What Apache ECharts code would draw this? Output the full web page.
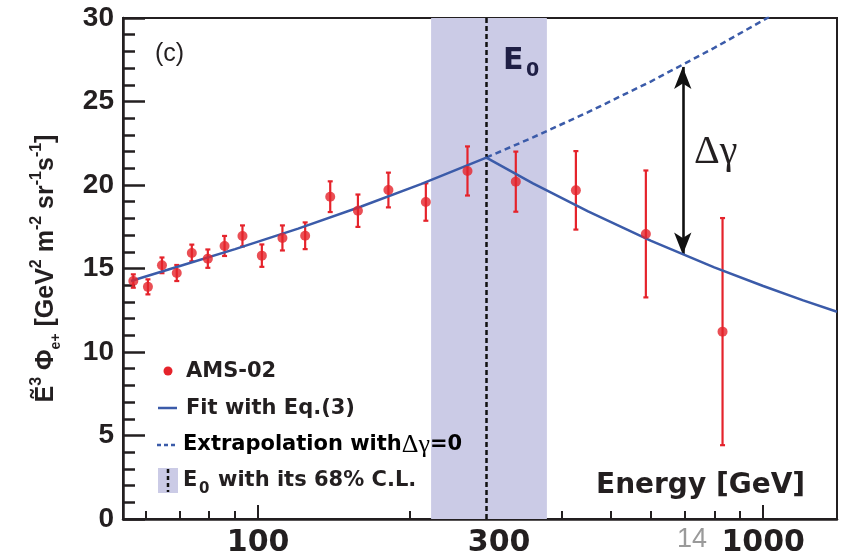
<!DOCTYPE html>
<html>
<head>
<meta charset="utf-8" />
<script src="https://cdn.jsdelivr.net/npm/echarts@6/dist/echarts.min.js"></script>
<style>
  html, body { margin: 0; padding: 0; background: #fff; }
  #main { width: 848px; height: 560px; }
</style>
</head>
<body>
<div id="main"></div>
<script>
// AMS-02 positron points (energy GeV, E^3 flux, error)
var amsE    = [56.6, 60.5, 64.5, 69.0, 73.9, 79.5, 85.8, 93.1, 101.7, 111.7, 123.9, 138.9, 157.6, 181.1, 214.8, 259.7, 323.7, 425.7, 585.7, 830.8];
var amsFlux = [14.25, 13.9, 15.19, 14.73, 15.93, 15.59, 16.35, 16.95, 15.77, 16.83, 16.96, 19.3, 18.46, 19.7, 18.98, 20.84, 20.2, 19.68, 17.07, 11.22];
var amsErr  = [0.4, 0.45, 0.47, 0.48, 0.5, 0.55, 0.6, 0.63, 0.67, 0.75, 0.8, 0.92, 0.97, 1.04, 1.12, 1.47, 1.8, 2.35, 3.8, 6.8];

// fit with Eq.(3)
var fitE    = [56, 70, 90, 120, 160, 210, 283, 350, 450, 600, 800, 1000, 1200, 1400];
var fitFlux = [14.25, 15.15, 16.16, 17.39, 18.71, 20.05, 21.64, 20.10, 18.42, 16.66, 15.07, 13.95, 13.09, 12.41];

// extrapolation with delta gamma = 0
var extE    = [283, 350, 450, 600, 800, 1000, 1100];
var extFlux = [21.64, 22.85, 24.36, 26.21, 28.21, 29.86, 30.59];

// E0 and its 68% C.L. band
var e0 = 283;
var e0Band = [220, 373];

// delta gamma arrow
var arrowE = 693;
var arrowFrom = 15.84;
var arrowTo = 27.07;

// axes
var xMin = 54, xMax = 1400;
var xMinorTicks = [60, 70, 80, 90, 200, 300, 400, 500, 600, 700, 800, 900];
var xMajorTicks = [100, 1000];
var xTickLabels = [100, 300, 1000];
var yMin = 0, yMax = 30, yStep = 5;

var RED = '#e5232b', BLUE = '#3b5ba9', INK = '#231f20', BAND = '#cbcbe6';
var SANS = 'Liberation Sans', WIDE = 'DejaVu Sans', SERIF = 'Liberation Serif';

var chart = echarts.init(document.getElementById('main'));

function lg(v) { return Math.log10(v); }

var amsData = amsE.map(function (e, i) { return [e, amsFlux[i], amsErr[i]]; });

var option = {
    animation: false,
    grid: { left: 123, right: 11, top: 18, bottom: 41, show: true, borderColor: INK, borderWidth: 2, backgroundColor: 'transparent' },
    xAxis: [
        {
            type: 'log', logBase: 10, min: xMin, max: xMax, position: 'bottom',
            axisLine: { onZero: false, lineStyle: { color: INK, width: 2.5 } },
            axisTick: { show: false }, axisLabel: { show: false },
            splitLine: { show: false }, minorTick: { show: false }
        },
        {
            type: 'value', min: lg(xMin), max: lg(xMax), position: 'bottom',
            axisLine: { show: false, onZero: false },
            axisTick: { inside: true, length: 8, customValues: xMinorTicks.map(lg), lineStyle: { color: INK, width: 2 } },
            axisLabel: { show: false }, splitLine: { show: false }
        },
        {
            type: 'value', min: lg(xMin), max: lg(xMax), position: 'bottom',
            axisLine: { show: false, onZero: false },
            axisTick: { inside: true, length: 14, customValues: xMajorTicks.map(lg), lineStyle: { color: INK, width: 2 } },
            axisLabel: {
                customValues: xTickLabels.map(lg), margin: 9,
                fontFamily: WIDE, fontWeight: 'bold', fontSize: 30, color: INK,
                formatter: function (v) { return String(Math.round(Math.pow(10, v))); }
            },
            splitLine: { show: false }
        }
    ],
    yAxis: {
        type: 'value', min: yMin, max: yMax, interval: yStep,
        axisLine: { show: true, lineStyle: { color: INK, width: 2.5 } },
        axisTick: { inside: true, length: 22, lineStyle: { color: INK, width: 2.5 } },
        minorTick: { show: true, splitNumber: 5, length: 12, lineStyle: { color: INK, width: 2.5 } },
        axisLabel: { margin: 9, fontFamily: SANS, fontWeight: 'bold', fontSize: 28, color: INK },
        splitLine: { show: false },
        name: '{t|\u1EBC}{u|3}{t| \u03A6}{d|e+}{t| [GeV}{u|2}{t| m}{u|-2}{t| sr}{u|-1}{t|s}{u|-1}{t|]}',
        nameLocation: 'middle', nameRotate: 90, nameGap: 60,
        nameTextStyle: {
            rich: {
                t: { fontFamily: SANS, fontWeight: 'bold', fontSize: 25, lineHeight: 34, color: INK },
                u: { fontFamily: SANS, fontWeight: 'bold', fontSize: 16, lineHeight: 16, verticalAlign: 'top', color: INK },
                d: { fontFamily: SANS, fontWeight: 'bold', fontSize: 14, lineHeight: 14, verticalAlign: 'bottom', color: INK }
            }
        }
    },
    series: [
        {
            // E0 band and dashed line
            type: 'line', data: [], z: 1, silent: true,
            markArea: { silent: true, itemStyle: { color: BAND }, data: [[{ xAxis: e0Band[0] }, { xAxis: e0Band[1] }]] },
            markLine: {
                silent: true, symbol: 'none', label: { show: false },
                lineStyle: { color: '#111', width: 2.5, type: [5, 3] },
                data: [{ xAxis: e0 }]
            }
        },
        {
            name: 'Extrapolation', type: 'line', z: 3,
            data: extE.map(function (e, i) { return [e, extFlux[i]]; }),
            symbol: 'none', lineStyle: { color: BLUE, width: 2.5, type: [6, 4] }
        },
        {
            name: 'errors', type: 'custom', z: 4,
            data: amsData,
            renderItem: function (params, api) {
                var x = api.value(0), y = api.value(1), e = api.value(2);
                var top = api.coord([x, y + e]), bot = api.coord([x, y - e]);
                var st = { stroke: RED, lineWidth: 2.2 };
                var c = 2.5;
                return {
                    type: 'group', children: [
                        { type: 'line', shape: { x1: top[0], y1: top[1], x2: bot[0], y2: bot[1] }, style: st },
                        { type: 'line', shape: { x1: top[0] - c, y1: top[1], x2: top[0] + c, y2: top[1] }, style: st },
                        { type: 'line', shape: { x1: bot[0] - c, y1: bot[1], x2: bot[0] + c, y2: bot[1] }, style: st }
                    ]
                };
            }
        },
        {
            name: 'Fit', type: 'line', z: 5,
            data: fitE.map(function (e, i) { return [e, fitFlux[i]]; }),
            symbol: 'none', lineStyle: { color: BLUE, width: 2.5 }
        },
        {
            name: 'AMS-02', type: 'scatter', z: 6,
            data: amsData, symbolSize: 10, itemStyle: { color: RED }
        },
        {
            // delta gamma arrow
            type: 'line', data: [], z: 6, silent: true,
            markLine: {
                silent: true, symbol: ['arrow', 'arrow'], symbolSize: [13, 22],
                label: { show: false },
                lineStyle: { color: '#111', width: 2.6, type: 'solid' },
                data: [[{ coord: [arrowE, arrowFrom] }, { coord: [arrowE, arrowTo] }]]
            }
        }
    ],
    graphic: [
        { type: 'text', x: 155, y: 54, z: 10, style: { text: '(c)', font: '25px "Liberation Sans"', fill: INK, verticalAlign: 'middle' } },
        { type: 'text', x: 503, y: 61, z: 10, style: { text: 'E', font: 'bold 30px "DejaVu Sans"', fill: '#1f1f45', verticalAlign: 'middle' } },
        { type: 'text', x: 526, y: 71, z: 10, style: { text: '0', font: 'bold 19px "DejaVu Sans"', fill: '#1f1f45', verticalAlign: 'middle' } },
        { type: 'text', x: 694, y: 152, z: 10, style: { text: '\u0394\u03B3', font: '40px "Liberation Serif"', fill: INK, verticalAlign: 'middle' } },
        { type: 'text', x: 596, y: 486, z: 10, style: { text: 'Energy [GeV]', font: 'bold 28px "DejaVu Sans"', fill: INK, verticalAlign: 'middle' } },
        { type: 'text', x: 677, y: 540, z: 10, style: { text: '14', font: '27px "Liberation Sans"', fill: '#9a9a9a', verticalAlign: 'middle' } },

        // legend
        { type: 'circle', z: 10, shape: { cx: 168, cy: 371, r: 4.5 }, style: { fill: RED } },
        { type: 'text', x: 186, y: 372, z: 10, style: { text: 'AMS-02', font: 'bold 21px "DejaVu Sans"', fill: INK, verticalAlign: 'middle' } },
        { type: 'line', z: 10, shape: { x1: 158, y1: 408, x2: 177, y2: 408 }, style: { stroke: BLUE, lineWidth: 2.5 } },
        { type: 'text', x: 186, y: 409, z: 10, style: { text: 'Fit with Eq.(3)', font: 'bold 21px "DejaVu Sans"', fill: INK, verticalAlign: 'middle' } },
        { type: 'line', z: 10, shape: { x1: 157, y1: 445, x2: 178, y2: 445 }, style: { stroke: BLUE, lineWidth: 2.5, lineDash: [4, 3] } },
        {
            type: 'text', x: 183, y: 445, z: 10,
            style: {
                text: '{a|Extrapolation with}{g|\u0394\u03B3}{a|=0}', verticalAlign: 'middle',
                rich: {
                    a: { fontFamily: WIDE, fontWeight: 'bold', fontSize: 21, color: INK },
                    g: { fontFamily: SERIF, fontSize: 26, color: INK }
                }
            }
        },
        { type: 'rect', z: 10, shape: { x: 158, y: 468, width: 20, height: 25 }, style: { fill: BAND } },
        { type: 'line', z: 11, shape: { x1: 168, y1: 469, x2: 168, y2: 492 }, style: { stroke: '#111', lineWidth: 2.5, lineDash: [4, 3] } },
        { type: 'text', x: 183, y: 481, z: 10, style: { text: 'E', font: 'bold 21px "DejaVu Sans"', fill: INK, verticalAlign: 'middle' } },
        { type: 'text', x: 199, y: 489, z: 10, style: { text: '0', font: 'bold 15px "DejaVu Sans"', fill: INK, verticalAlign: 'middle' } },
        { type: 'text', x: 218, y: 481, z: 10, style: { text: 'with its 68% C.L.', font: 'bold 21px "DejaVu Sans"', fill: INK, verticalAlign: 'middle' } }
    ]
};

chart.setOption(option);
</script>
</body>
</html>
